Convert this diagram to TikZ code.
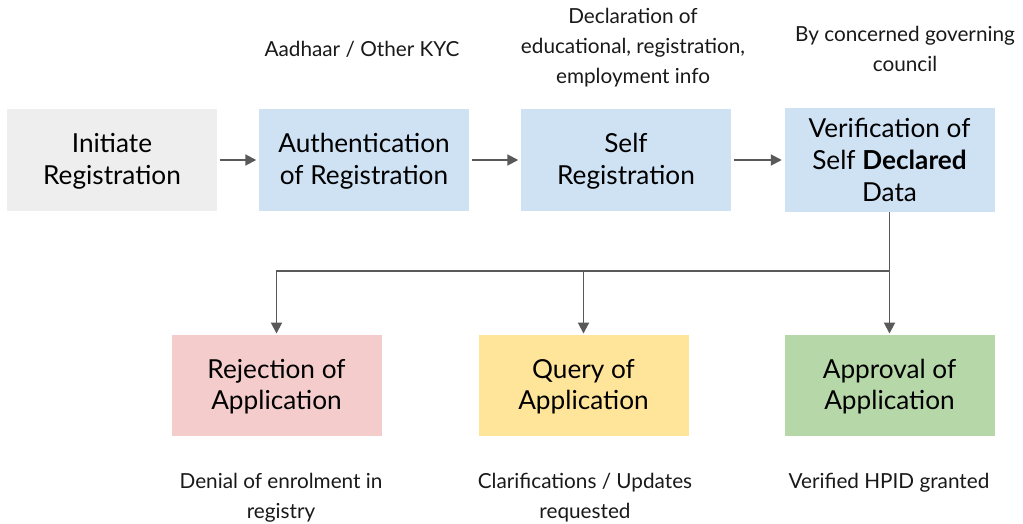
\documentclass[tikz,border=0pt]{standalone}
\usepackage{fontspec}
\setmainfont{Lato}
\usetikzlibrary{arrows.meta}
\definecolor{boxgray}{HTML}{EEEEEE}
\definecolor{boxblue}{HTML}{CFE2F3}
\definecolor{boxred}{HTML}{F4CCCC}
\definecolor{boxyellow}{HTML}{FFE599}
\definecolor{boxgreen}{HTML}{B6D7A8}
\definecolor{linegray}{HTML}{595959}
\begin{document}
\begin{tikzpicture}[line width=1.1pt,>={Triangle[length=2.2mm,width=2.2mm]},
  stage/.style={minimum width=4.2cm,minimum height=2.02cm,align=center,inner sep=0pt,font=\fontsize{14.9}{18}\selectfont},
  note/.style={align=center,font=\fontsize{11.8}{17}\selectfont,text=black!90},
  flow/.style={color=linegray,->,shorten <=1pt,shorten >=1pt}]
\useasboundingbox (0,0) rectangle (20.46,-10.48);
% top row
\node[stage,fill=boxgray] (init) at (2.24,-3.2) {\strut Initiate\\Registration};
\node[stage,fill=boxblue] (auth) at (7.28,-3.2) {\strut Authentication\\of Registration};
\node[stage,fill=boxblue] (selfreg) at (12.52,-3.2) {\strut Self\\Registration};
\node[stage,fill=boxblue,minimum height=2.06cm] (verif) at (17.79,-3.2) {Verification of\\Self \textbf{Declared}\\Data};
% bottom row
\node[stage,fill=boxred] (reject) at (5.53,-7.7) {\strut Rejection of\\Application};
\node[stage,fill=boxyellow] (query) at (11.67,-7.7) {\strut Query of\\Application};
\node[stage,fill=boxgreen] (approve) at (17.79,-7.7) {\strut Approval of\\Application};
% notes
\node[note] (kyc) at (7.24,-0.98) {Aadhaar / Other KYC};
\node[note] (decl) at (12.66,-0.96) {Declaration of\\educational, registration,\\employment info};
\node[note] (council) at (18.1,-0.98) {By concerned governing\\council};
\node[note] (denial) at (5.62,-9.96) {Denial of enrolment in\\registry};
\node[note] (clarify) at (11.7,-9.96) {Clarifications / Updates\\requested};
\node[note] (granted) at (17.78,-9.66) {Verified HPID granted};
% connectors
\draw[flow] (init) -- (auth);
\draw[flow] (auth) -- (selfreg);
\draw[flow] (selfreg) -- (verif);
\coordinate (split) at (17.79,-5.42);
\draw[color=linegray] (verif.south) -- (split);
\draw[color=linegray,->] (split) -| (reject.north);
\draw[color=linegray,->] (split) -| (query.north);
\draw[color=linegray,->] (verif.south) -- (approve.north);
\end{tikzpicture}
\end{document}
